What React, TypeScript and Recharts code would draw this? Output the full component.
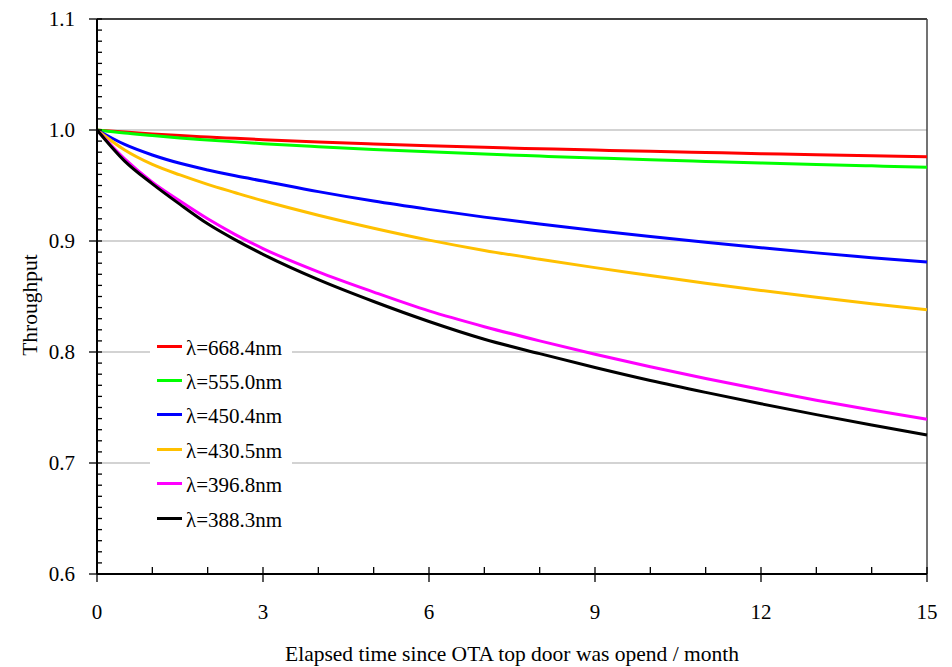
import { CartesianGrid, Label, Line, LineChart, ReferenceLine, XAxis, YAxis } from "recharts";

const months = [0, 0.5, 1, 1.5, 2, 2.5, 3, 4, 5, 6, 7, 8, 9, 10, 11, 12, 13, 14, 15];
const nm668 = [1.0, 0.9982, 0.9965, 0.995, 0.9937, 0.9925, 0.9913, 0.9892, 0.9874, 0.9858, 0.9844, 0.9831, 0.9819, 0.9808, 0.9797, 0.9787, 0.9778, 0.9769, 0.976];
const nm555 = [1.0, 0.9972, 0.995, 0.9928, 0.991, 0.9893, 0.9877, 0.985, 0.9825, 0.9803, 0.9783, 0.9765, 0.9748, 0.9732, 0.9717, 0.9703, 0.969, 0.9677, 0.9665];
const nm450 = [1.0, 0.987, 0.9775, 0.97, 0.964, 0.9587, 0.954, 0.9445, 0.936, 0.9285, 0.9215, 0.9153, 0.9095, 0.904, 0.8988, 0.894, 0.8893, 0.885, 0.881];
const nm430 = [1.0, 0.982, 0.969, 0.9595, 0.951, 0.9435, 0.9362, 0.9232, 0.9115, 0.9008, 0.8915, 0.8835, 0.876, 0.869, 0.862, 0.8555, 0.8493, 0.8435, 0.838];
const nm396 = [1.0, 0.974, 0.953, 0.936, 0.92, 0.9058, 0.8932, 0.8722, 0.854, 0.837, 0.8228, 0.81, 0.798, 0.7867, 0.7762, 0.7662, 0.7566, 0.7477, 0.7394];
const nm388 = [1.0, 0.972, 0.9515, 0.933, 0.9155, 0.901, 0.888, 0.8652, 0.8455, 0.8275, 0.8115, 0.7985, 0.786, 0.7743, 0.7636, 0.7534, 0.7436, 0.7342, 0.7252];

// every integer month gets a tick, labels only on multiples of 3
const xTicks = Array.from({ length: 16 }, (_, i) => i);
// every 0.01 gets a tick, labels only on the tenths
const yTicks = Array.from({ length: 51 }, (_, i) => Math.round((0.6 + i * 0.01) * 100) / 100);

const series = [
  { key: "nm668", name: "λ=668.4nm", color: "#ff0000", values: nm668 },
  { key: "nm555", name: "λ=555.0nm", color: "#00ff00", values: nm555 },
  { key: "nm450", name: "λ=450.4nm", color: "#0000ff", values: nm450 },
  { key: "nm430", name: "λ=430.5nm", color: "#ffc000", values: nm430 },
  { key: "nm396", name: "λ=396.8nm", color: "#ff00ff", values: nm396 },
  { key: "nm388", name: "λ=388.3nm", color: "#000000", values: nm388 },
];

const data = months.map((t, i) => {
  const row: Record<string, number> = { t };
  series.forEach((s) => {
    row[s.key] = s.values[i];
  });
  return row;
});

const FONT = "Liberation Serif, Times New Roman, serif";

function XTick(props: any) {
  const { x, y, payload } = props;
  const v = payload.value as number;
  const major = v % 3 === 0;
  return (
    <g>
      <line x1={x} x2={x} y1={y - 7} y2={major ? y + 8 : y} stroke="#000" strokeWidth={1.3} />
      {major && (
        <text x={x} y={y + 45} textAnchor="middle" fontFamily={FONT} fontSize={21} fill="#000">
          {v}
        </text>
      )}
    </g>
  );
}

function YTick(props: any) {
  const { x, y, payload } = props;
  const v = payload.value as number;
  const major = Math.abs(v * 10 - Math.round(v * 10)) < 1e-6;
  return (
    <g>
      <line x1={major ? x - 8 : x} x2={x + 5} y1={y} y2={y} stroke="#000" strokeWidth={1.3} />
      {major && (
        <text x={x - 22} y={y + 7} textAnchor="end" fontFamily={FONT} fontSize={21} fill="#000">
          {v.toFixed(1)}
        </text>
      )}
    </g>
  );
}

// legend sits on top of the plot, white box hides the gridlines behind it
function LegendBox() {
  return (
    <div style={{ position: "absolute", left: 150, top: 329, width: 142, background: "#fff" }}>
      {series.map((s) => (
        <div key={s.key} style={{ display: "flex", alignItems: "center", height: 34.4 }}>
          <div style={{ width: 25, height: 3, background: s.color, marginLeft: 7, marginRight: 4 }} />
          <span style={{ fontFamily: FONT, fontSize: 21, color: "#000", lineHeight: "21px", marginTop: 4 }}>
            {s.name}
          </span>
        </div>
      ))}
    </div>
  );
}

export default function App() {
  return (
    <div style={{ position: "absolute", left: 0, top: 0, width: 952, height: 667, background: "#fff" }}>
      <LineChart width={952} height={667} data={data} margin={{ top: 19, right: 25, left: 0, bottom: 0 }}>
        <CartesianGrid
          vertical={false}
          horizontalValues={[0.7, 0.8, 0.9, 1.0]}
          stroke="#c4c4c4"
          strokeWidth={1.5}
        />
        <XAxis
          dataKey="t"
          type="number"
          domain={[0, 15]}
          ticks={xTicks}
          interval={0}
          height={93}
          tickSize={0}
          tickMargin={0}
          tick={<XTick />}
          tickLine={false}
          axisLine={{ stroke: "#000", strokeWidth: 2 }}
        >
          <Label
            value="Elapsed time since OTA top door was opend / month"
            position="insideBottom"
            offset={6}
            style={{ fontFamily: FONT, fontSize: 21.5, fill: "#000" }}
          />
        </XAxis>
        <YAxis
          type="number"
          domain={[0.6, 1.1]}
          ticks={yTicks}
          interval={0}
          width={97}
          tickSize={0}
          tickMargin={0}
          tick={<YTick />}
          tickLine={false}
          axisLine={{ stroke: "#000", strokeWidth: 2 }}
        >
          <Label
            content={() => (
              <text
                x={37}
                y={305}
                transform="rotate(-90 37 305)"
                textAnchor="middle"
                fontFamily={FONT}
                fontSize={21.5}
                fill="#000"
              >
                Throughput
              </text>
            )}
          />
        </YAxis>
        <ReferenceLine y={1.1} stroke="#000" strokeWidth={1.5} />
        <ReferenceLine x={15} stroke="#444" strokeWidth={1.5} />
        {series.map((s) => (
          <Line
            key={s.key}
            dataKey={s.key}
            name={s.name}
            type="monotone"
            stroke={s.color}
            strokeWidth={3}
            dot={false}
            activeDot={false}
            isAnimationActive={false}
          />
        ))}
      </LineChart>
      <LegendBox />
    </div>
  );
}
